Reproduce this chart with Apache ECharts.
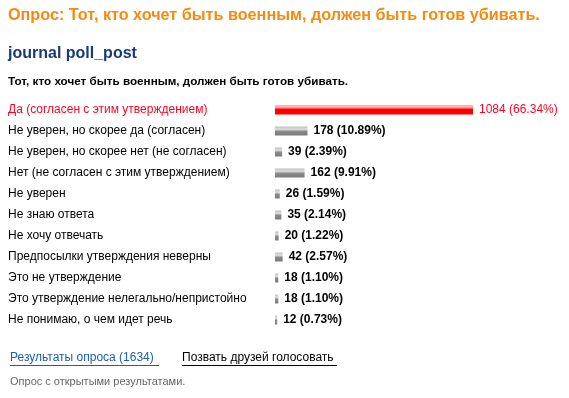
<!DOCTYPE html>
<html>
<head>
<meta charset="utf-8">
<script src="https://cdn.jsdelivr.net/npm/echarts@6/dist/echarts.min.js"></script>
<style>
  html, body { margin: 0; padding: 0; background: #fff; }
  #chart { width: 569px; height: 398px; }
</style>
</head>
<body>
<div id="chart"></div>
<script>
// poll answers, top to bottom
const answers = [
  'Да (согласен с этим утверждением)',
  'Не уверен, но скорее да (согласен)',
  'Не уверен, но скорее нет (не согласен)',
  'Нет (не согласен с этим утверждением)',
  'Не уверен',
  'Не знаю ответа',
  'Не хочу отвечать',
  'Предпосылки утверждения неверны',
  'Это не утверждение',
  'Это утверждение нелегально/непристойно',
  'Не понимаю, о чем идет речь'
];
const votes = [1084, 178, 39, 162, 26, 35, 20, 42, 18, 18, 12];
const percents = ['66.34', '10.89', '2.39', '9.91', '1.59', '2.14', '1.22', '2.57', '1.10', '1.10', '0.73'];
const totalVotes = 1634;

const FONT = '"Liberation Sans", Arial, sans-serif';
const RED = '#ff0022';

const redFill = new echarts.graphic.LinearGradient(0, 0, 0, 1, [
  { offset: 0, color: '#ff6666' },
  { offset: 0.15, color: '#ffc8c8' },
  { offset: 0.45, color: '#ff0000' },
  { offset: 1, color: '#ff0000' }
]);
const grayFill = new echarts.graphic.LinearGradient(0, 0, 0, 1, [
  { offset: 0, color: '#bdbdbd' },
  { offset: 0.3, color: '#e0e0e0' },
  { offset: 0.55, color: '#8a8a8a' },
  { offset: 1, color: '#7a7a7a' }
]);

const chart = echarts.init(document.getElementById('chart'));

chart.setOption({
  animation: false,
  grid: {
    left: 275, top: 99.5, width: 198, height: 231,
    containLabel: false, outerBoundsMode: 'none'
  },
  xAxis: {
    type: 'value', min: 0, max: 1084, show: false
  },
  yAxis: {
    type: 'category',
    inverse: true,
    data: answers.map((a, i) => i === 0
      ? { value: a, textStyle: { color: RED, align: 'left' } }
      : a),
    axisLine: { show: false },
    axisTick: { show: false },
    axisLabel: {
      align: 'left', margin: 267,
      fontFamily: FONT, fontSize: 12, color: '#000'
    }
  },
  series: [{
    type: 'bar',
    data: votes.map((v, i) => ({
      value: v,
      itemStyle: { color: i === 0 ? redFill : grayFill },
      label: i === 0 ? { color: RED, fontWeight: 'normal' } : undefined
    })),
    barWidth: 9,
    label: {
      show: true, position: 'right', distance: 6,
      fontFamily: FONT, fontSize: 12, fontWeight: 'bold', color: '#000',
      formatter: p => votes[p.dataIndex] + ' (' + percents[p.dataIndex] + '%)'
    }
  }],
  graphic: [
    { type: 'text', left: 8, top: 8,
      style: { text: 'Опрос: Тот, кто хочет быть военным, должен быть готов убивать.',
        font: 'bold 16.2px ' + FONT, fill: '#f78a0e' } },
    { type: 'text', left: 8, top: 46,
      style: { text: 'journal poll_post', font: 'bold 16px ' + FONT, fill: '#173a7c' } },
    { type: 'text', left: 8, top: 76,
      style: { text: 'Тот, кто хочет быть военным, должен быть готов убивать.',
        font: 'bold 11.7px ' + FONT, fill: '#000' } },
    { type: 'text', left: 10, top: 352,
      style: { text: 'Результаты опроса (' + totalVotes + ')', font: '12px ' + FONT, fill: '#1b5fb4' } },
    { type: 'line', shape: { x1: 10, y1: 365.5, x2: 159, y2: 365.5 },
      style: { stroke: '#1b5fb4', lineWidth: 1 } },
    { type: 'text', left: 182, top: 352,
      style: { text: 'Позвать друзей голосовать', font: '12px ' + FONT, fill: '#000' } },
    { type: 'line', shape: { x1: 182, y1: 365.5, x2: 337, y2: 365.5 },
      style: { stroke: '#000', lineWidth: 1 } },
    { type: 'text', left: 10, top: 376,
      style: { text: 'Опрос с открытыми результатами.', font: '11px ' + FONT, fill: '#666' } }
  ]
});
</script>
</body>
</html>
